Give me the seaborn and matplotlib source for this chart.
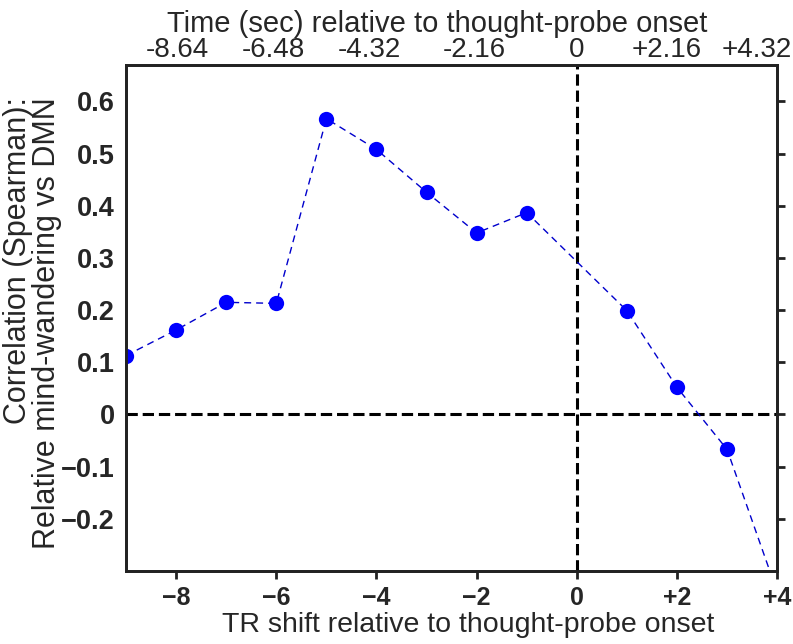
import matplotlib
matplotlib.use("Agg")
import matplotlib.pyplot as plt
import seaborn as sns
import pandas as pd

# ---- data ----
tr_shift = [-9, -8, -7, -6, -5, -4, -3, -2, -1, 1, 2, 3, 4]
correlation = [0.113, 0.162, 0.215, 0.213, 0.567, 0.508, 0.426, 0.348, 0.387,
               0.199, 0.052, -0.067, -0.34]
bottom_ticks = [-8, -6, -4, -2, 0, 2, 4]
bottom_labels = ["\u22128", "\u22126", "\u22124", "\u22122", "0", "+2", "+4"]
y_ticks = [-0.2, -0.1, 0, 0.1, 0.2, 0.3, 0.4, 0.5, 0.6]
y_labels = ["\u22120.2", "\u22120.1", "0", "0.1", "0.2", "0.3", "0.4", "0.5", "0.6"]
top_tick_pos = [-7.98, -6.05, -4.14, -2.05, 0, 1.79, 3.6]
top_labels = ["-8.64", "-6.48", "-4.32", "-2.16", "0", "+2.16", "+4.32"]

df = pd.DataFrame({"tr": tr_shift, "corr": correlation})

sns.set_style("white")
plt.rcParams["font.family"] = ["Liberation Sans", "DejaVu Sans"]

fig = plt.figure(figsize=(7.93, 6.44), dpi=100)
ax = fig.add_axes([0.159, 0.1134, 0.821, 0.7857])

ax.axhline(0, color="black", linestyle="--", linewidth=2.2, zorder=1)
ax.axvline(0, color="black", linestyle="--", linewidth=2.2, zorder=1)

sns.lineplot(data=df, x="tr", y="corr", ax=ax, color="#0000cc",
             linewidth=1.0, marker="o", markersize=11,
             markerfacecolor="#0000ff", markeredgewidth=0, zorder=3)
ax.lines[-1].set_linestyle((0, (5, 3.6)))

ax.set_xlim(-9, 4)
ax.set_ylim(-0.30, 0.67)
ax.set_xticks(bottom_ticks)
ax.set_xticklabels(bottom_labels, fontsize=18, fontweight="bold")
ax.set_yticks(y_ticks)
ax.set_yticklabels(y_labels, fontsize=19.5, fontweight="bold")
ax.set_xlabel("TR shift relative to thought-probe onset", fontsize=20.5)
ax.xaxis.set_label_coords(0.525, -0.081)
ax.set_ylabel("Correlation (Spearman):\nRelative mind-wandering vs DMN",
              fontsize=22, multialignment="right", linespacing=0.95)
ax.yaxis.set_label_coords(-0.098, 0.49)

for s in ax.spines.values():
    s.set_linewidth(2.0)
    s.set_color("#222222")
ax.tick_params(axis="both", direction="out", length=6, width=2,
               color="#222222", pad=2)
ax.tick_params(axis="x", pad=5)
ax.tick_params(axis="y", right=True, labelright=False)

ax2 = ax.twiny()
ax2.set_xlim(ax.get_xlim())
ax2.set_xticks(top_tick_pos)
ax2.set_xticklabels(top_labels, fontsize=20)
ax2.tick_params(axis="x", length=0, pad=1.5)
ax2.set_xlabel("Time (sec) relative to thought-probe onset", fontsize=21)
ax2.xaxis.set_label_coords(0.478, 1.065)
for s in ax2.spines.values():
    s.set_linewidth(2.0)
    s.set_color("#222222")

fig.savefig("out.png", dpi=100)
